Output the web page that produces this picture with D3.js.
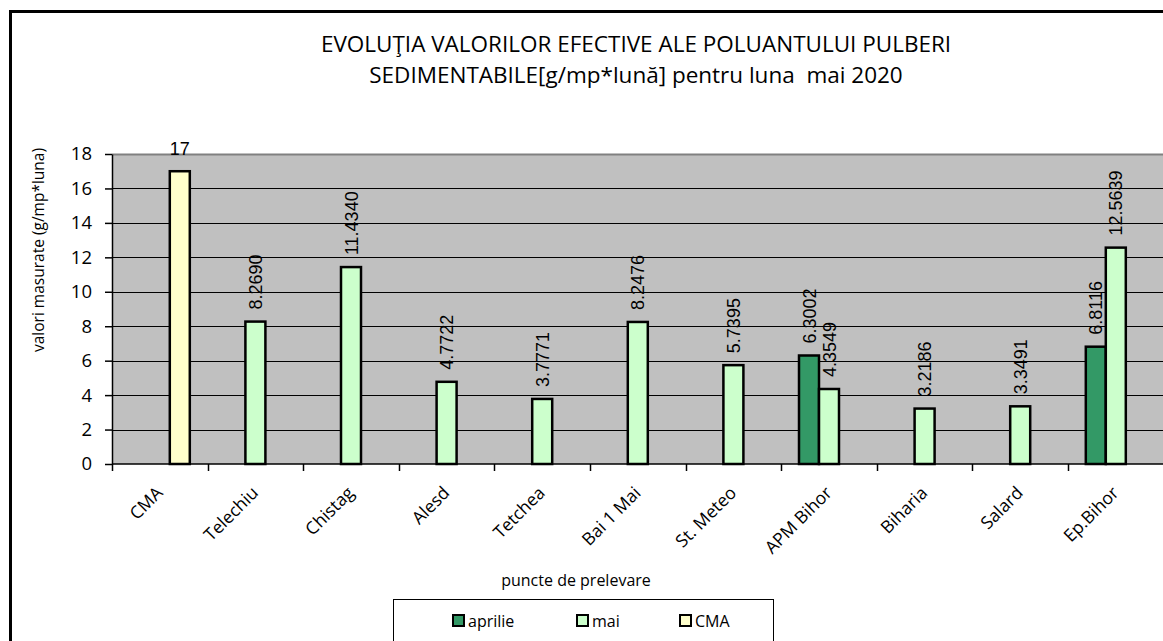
<!DOCTYPE html>
<html><head><meta charset="utf-8">
<script src="https://cdn.jsdelivr.net/npm/d3@7"></script>
<style>html,body{margin:0;padding:0;background:#fff;overflow:hidden}</style>
</head><body>
<svg id="c" width="1163" height="641"></svg>
<script>
const categories = ["CMA","Telechiu","Chistag","Alesd","Tetchea","Bai 1 Mai","St. Meteo","APM Bihor","Biharia","Salard","Ep.Bihor"];
const seriesNames = ["aprilie","mai","CMA"];
const aprilie = [null,null,null,null,null,null,null,6.3002,null,null,6.8116];
const mai = [null,8.2690,11.4340,4.7722,3.7771,8.2476,5.7395,4.3549,3.2186,3.3491,12.5639];
const cma = [17,null,null,null,null,null,null,null,null,null,null];
const aprilieLabels = ["","","","","","","","6.3002","","","6.8116"];
const maiLabels = ["","8.2690","11.4340","4.7722","3.7771","8.2476","5.7395","4.3549","3.2186","3.3491","12.5639"];
const cmaLabels = ["17","","","","","","","","","",""];
const yTicks = [0,2,4,6,8,10,12,14,16,18];
const colors = {aprilie:"#339966", mai:"#CCFFCC", CMA:"#FFFFCC"};
const titleLines = ["EVOLUŢIA VALORILOR EFECTIVE ALE POLUANTULUI PULBERI","SEDIMENTABILE[g/mp*lună] pentru luna  mai 2020"];

(function(){
const svg = d3.select("#c");
const pL = 112, pR = 1163.6, pT = 154, pB = 464;
const FONT = "Open Sans, sans-serif";

svg.append("rect").attr("x",10.5).attr("y",11.5).attr("width",1200).attr("height",700)
  .attr("fill","#fff").attr("stroke","#000").attr("stroke-width",3);

const x0 = d3.scaleBand().domain(categories).range([pL,pR]).padding(0);
const step = x0.bandwidth();
const grp = 60/95.6*step;
const x1 = d3.scaleBand().domain(seriesNames).range([(step-grp)/2,(step+grp)/2]).padding(0);
const y = d3.scaleLinear().domain([0,18]).range([pB,pT]);

svg.append("rect").attr("x",pL).attr("y",pT).attr("width",pR-pL).attr("height",pB-pT).attr("fill","#C0C0C0");
svg.append("g").selectAll("line").data(yTicks.filter(t=>t>0)).join("line")
  .attr("x1",pL).attr("x2",pR).attr("y1",d=>Math.round(y(d))+0.5).attr("y2",d=>Math.round(y(d))+0.5)
  .attr("stroke",d=>d===18?"#808080":"#000").attr("stroke-width",d=>d===18?2:1);

const seriesData = {aprilie, mai, CMA: cma};
const seriesLabels = {aprilie: aprilieLabels, mai: maiLabels, CMA: cmaLabels};
seriesNames.forEach(s=>{
  const g = svg.append("g");
  const rows = categories.map((c,i)=>({c, v: seriesData[s][i], l: seriesLabels[s][i]})).filter(d=>d.v!=null);
  g.selectAll("rect").data(rows).join("rect")
    .attr("x",d=>x0(d.c)+x1(s)).attr("width",x1.bandwidth())
    .attr("y",d=>y(d.v)).attr("height",d=>y(0)-y(d.v))
    .attr("fill",colors[s]).attr("stroke","#000").attr("stroke-width",2.5);
  g.selectAll("text").data(rows).join("text")
    .attr("font-family","Liberation Sans, Arial, sans-serif").attr("font-size",18).attr("fill","#000")
    .each(function(d){
      const cx = x0(d.c)+x1(s)+x1.bandwidth()/2;
      const t = d3.select(this).text(d.l);
      if (s==="CMA") {
        t.attr("x",cx).attr("y",y(d.v)-16).attr("text-anchor","middle");
      } else {
        t.attr("transform",`translate(${cx+6.5},${y(d.v)-12}) rotate(-90)`).attr("text-anchor","start");
      }
    });
});

const yAxis = d3.axisLeft(y).tickValues(yTicks).tickSize(7).tickSizeOuter(0).tickPadding(13);
const ya = svg.append("g").attr("transform",`translate(${pL},0)`).call(yAxis);
ya.select(".domain").attr("stroke","#000").attr("stroke-width",1.5);
ya.selectAll(".tick line").attr("stroke","#000").attr("stroke-width",1.5);
ya.selectAll(".tick text").attr("font-family",FONT).attr("font-size",18.5).attr("fill","#000");

svg.append("line").attr("x1",pL).attr("x2",pR).attr("y1",pB).attr("y2",pB).attr("stroke","#000").attr("stroke-width",1.5);
const bounds = categories.map(c=>x0(c)).concat([pR]);
svg.append("g").selectAll("line").data(bounds).join("line")
  .attr("x1",d=>Math.round(d)+0.5).attr("x2",d=>Math.round(d)+0.5).attr("y1",pB).attr("y2",pB+7)
  .attr("stroke","#000").attr("stroke-width",1.5);
svg.append("g").selectAll("text").data(categories).join("text")
  .attr("transform",c=>`translate(${x0(c)+step/2+4},${pB+30}) rotate(-45)`)
  .attr("text-anchor","end").attr("font-family",FONT).attr("font-size",17.5).attr("fill","#000")
  .text(c=>c);

const tt = svg.append("text").attr("text-anchor","middle").attr("font-family",FONT).attr("font-size",22.5).attr("fill","#000");
titleLines.forEach((l,i)=>tt.append("tspan").attr("x",636).attr("y",52+i*30.5).attr("xml:space","preserve").text(l));

svg.append("text").attr("transform","translate(44,250) rotate(-90)").attr("text-anchor","middle")
  .attr("font-family",FONT).attr("font-size",15.5).attr("fill","#000").text("valori masurate (g/mp*luna)");
svg.append("text").attr("x",576).attr("y",586).attr("text-anchor","middle")
  .attr("font-family",FONT).attr("font-size",16).attr("fill","#000").text("puncte de prelevare");

svg.append("rect").attr("x",393.5).attr("y",599.5).attr("width",380).attr("height",60).attr("fill","#fff").attr("stroke","#000").attr("stroke-width",1);
const legX = [453, 577, 680];
const lg = svg.append("g").selectAll("g").data(seriesNames).join("g")
  .attr("transform",(d,i)=>`translate(${legX[i]},${615})`);
lg.append("rect").attr("width",11).attr("height",11).attr("fill",d=>colors[d]).attr("stroke","#000").attr("stroke-width",2);
lg.append("text").attr("x",15).attr("y",12).attr("font-family",FONT).attr("font-size",16).attr("fill","#000").text(d=>d);
})();
</script>
</body></html>
